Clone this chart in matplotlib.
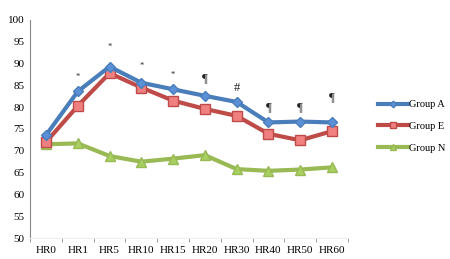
import matplotlib.pyplot as plt
import numpy as np

cats = ['HR0', 'HR1', 'HR5', 'HR10', 'HR15', 'HR20', 'HR30', 'HR40', 'HR50', 'HR60']
group_a = [73.6, 83.6, 89.3, 85.6, 84.1, 82.6, 81.2, 76.5, 76.7, 76.5]
group_e = [72.0, 80.3, 87.8, 84.5, 81.5, 79.6, 78.0, 73.9, 72.4, 74.5]
group_n = [71.5, 71.7, 68.8, 67.5, 68.2, 69.0, 65.8, 65.4, 65.7, 66.2]
marks = ['*', '*', '*', '*', '¶', '#', '¶', '¶', '¶']
mark_y = [87.0, 93.8, 89.5, 87.4, 86.7, 84.4, 80.0, 80.0, 82.3]
mark_x = [1, 2, 3, 4, 5, 6, 7, 8, 9]

plt.rcParams['font.family'] = ['Liberation Serif', 'DejaVu Serif']

fig = plt.figure(figsize=(4.5, 2.59), dpi=100)
ax = fig.add_axes([0.067, 0.081, 0.706, 0.842])

x = np.arange(len(cats))
ax.plot(x, group_a, color='#4a7ebb', lw=3, marker='D', ms=5.5, mfc='#5b8fd6', mec='#4a7ebb', label='Group A', zorder=3)
ax.plot(x, group_e, color='#be4b48', lw=3, marker='s', ms=7.5, mfc='#f08080', mec='#be4b48', label='Group E', zorder=2)
ax.plot(x, group_n, color='#98b954', lw=3, marker='^', ms=6.5, mfc='#a8d060', mec='#98b954', label='Group N', zorder=1)

for xi, yi, m in zip(mark_x, mark_y, marks):
    fs = 6 if m == '*' else 9
    ax.text(xi, yi, m, ha='center', va='center', fontsize=fs, color='#222222')

ax.set_xlim(-0.5, len(cats) - 0.5)
ax.set_ylim(50, 100)
ax.set_yticks(np.arange(50, 101, 5))
ax.set_xticks(x)
ax.set_xticklabels(cats)
ax.set_xticks(np.arange(-0.5, len(cats), 1), minor=True)
ax.tick_params(axis='x', which='major', length=0, labelsize=8, pad=6)
ax.tick_params(axis='x', which='minor', length=3, color='#888888')
ax.tick_params(axis='y', length=0, labelsize=8, pad=4)
for s in ['top', 'right']:
    ax.spines[s].set_visible(False)
ax.spines['left'].set_color('#888888')
ax.spines['bottom'].set_color('#eeeeee')

fig.legend(loc='upper left', bbox_to_anchor=(0.82, 0.65), frameon=False, fontsize=7.5,
           handlelength=2.8, labelspacing=1.2, handletextpad=0.1, markerscale=0.6)

fig.savefig('out.png', dpi=100)
